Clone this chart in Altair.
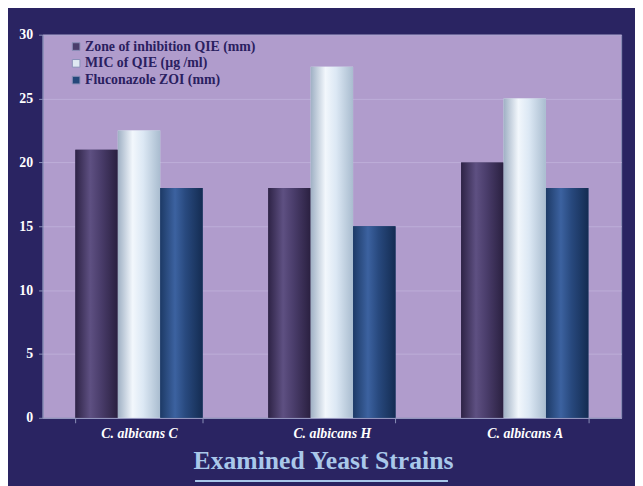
import altair as alt
import pandas as pd

strains = ["C. albicans C", "C. albicans H", "C. albicans A"]
series = ["Zone of inhibition QIE (mm)", "MIC of QIE (µg /ml)", "Fluconazole ZOI (mm)"]
zone_qie = [21, 18, 20]
mic_qie = [22.5, 27.5, 25]
fluconazole = [18, 15, 18]
solid_colors = ["#4a3d6b", "#dfe8f2", "#24477a"]

rows = []
for i, s in enumerate(strains):
    for name, vals in zip(series, [zone_qie, mic_qie, fluconazole]):
        rows.append({"strain": s, "series": name, "value": vals[i]})
df = pd.DataFrame(rows)

SERIF = "Liberation Serif"

x_enc = alt.X("strain:N", sort=strains,
              scale=alt.Scale(paddingInner=0.34, paddingOuter=0.17),
              axis=alt.Axis(title="Examined Yeast Strains", labelAngle=0,
                            labelFont=SERIF, labelFontSize=14, labelFontStyle="italic",
                            labelFontWeight="bold", labelColor="#ffffff", labelPadding=4,
                            tickBand="extent", tickSize=5, tickColor="#8a8fb8",
                            domainColor="#8a8fb8", titleFont=SERIF, titleFontSize=26,
                            titleFontWeight="bold", titleColor="#a9c8ea", titlePadding=7,
                            titleX=284, titleAlign="center", titleAnchor="start"))
xoff_enc = alt.XOffset("series:N", sort=series, scale=alt.Scale(domain=series, paddingInner=0, paddingOuter=0))
y_enc = alt.Y("value:Q", scale=alt.Scale(domain=[0, 30]),
              axis=alt.Axis(title=None, values=[0, 5, 10, 15, 20, 25, 30],
                            labelFont=SERIF, labelFontSize=14, labelFontWeight="bold",
                            labelColor="#ffffff", labelPadding=6, tickSize=4,
                            tickColor="#8a8fb8", domainColor="#8a8fb8",
                            gridColor="#bdaed8", gridWidth=1))

base = alt.Chart(df).mark_bar().encode(
    x=x_enc, xOffset=xoff_enc, y=y_enc,
    color=alt.Color("series:N", sort=series,
                    scale=alt.Scale(domain=series, range=solid_colors),
                    legend=alt.Legend(title=None, orient="none", legendX=27, legendY=5,
                                      labelFont=SERIF, labelFontSize=14, labelFontWeight="bold",
                                      labelColor="#2a2060", labelLimit=0,
                                      symbolType="square", symbolSize=60,
                                      symbolStrokeColor="#8a8fb8", symbolStrokeWidth=1,
                                      rowPadding=3, padding=0, labelOffset=2))
)

grads = {
    series[0]: ["#2e2346", "#5e5082", "#4a3d6b", "#2a2040"],
    series[1]: ["#9fb0c4", "#f2f7fc", "#dce8f4", "#a9bccf"],
    series[2]: ["#1d3a66", "#3c62a0", "#28497e", "#142c52"],
}

layers = [base]
for name in series:
    stops = grads[name]
    g = alt.Gradient(gradient="linear", x1=0, x2=1, y1=0, y2=0,
                     stops=[alt.GradientStop(offset=0, color=stops[0]),
                            alt.GradientStop(offset=0.35, color=stops[1]),
                            alt.GradientStop(offset=0.6, color=stops[2]),
                            alt.GradientStop(offset=1, color=stops[3])])
    layers.append(
        alt.Chart(df).transform_filter(alt.datum.series == name)
        .mark_bar(color=g)
        .encode(x=alt.X("strain:N", sort=strains), xOffset=xoff_enc, y=alt.Y("value:Q"))
    )

underline = alt.Chart(df).mark_rule(color="#a9c8ea", strokeWidth=1.5).encode(
    x=alt.value(155), x2=alt.value(410), y=alt.value(452)
)
layers.append(underline)

chart = alt.layer(*layers).properties(
    width=586, height=388,
    autosize=alt.AutoSizeParams(type="none"),
    padding={"left": 35, "top": 24, "right": 14, "bottom": 66},
    background="#2a2462",
).configure_view(fill="#b09ccc", stroke="#8a8fb8", strokeWidth=1)

chart.save("out.html", embed_options={"renderer": "svg", "actions": False})
